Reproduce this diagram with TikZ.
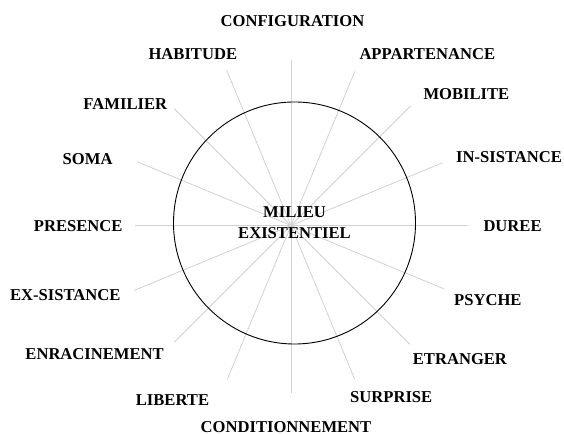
\documentclass[tikz,border=0pt]{standalone}
\usepackage{fontspec}
\setmainfont{Liberation Serif}
\usepackage{tikz}
\usetikzlibrary{calc}
\usetikzlibrary{positioning, shapes}
\usepackage{xcolor}

\tikzset{
  spoke/.style={draw=black!18, line width=0.8pt},
  axisname/.style={font=\fontsize{16.6}{19}\selectfont\bfseries, inner sep=0pt, text height=11pt, text depth=0pt}
}

\begin{document}
\begin{tikzpicture}[x=1pt, y=1pt]
  \useasboundingbox (0,0) rectangle (564,435);

  % Spokes
  \coordinate (centre) at (291,209.5);
  \foreach \ang/\len [count=\i] in {0/177, 22.5/164, 45/169, 67.5/167, 90/165, 112.5/168, 135/165, 157.5/167,
                                    180/156, 202.5/170, 225/165, 247.5/166, 270/168, 292.5/166, 315/168, 337.5/166} {
    \coordinate (end\i) at ($(centre)+(\ang:\len)$);
    \draw[spoke] (centre) -- (end\i);
  }

  % Milieu
  \node[draw, circle, minimum size=242pt, line width=0.9pt, inner sep=0pt, align=center,
        font=\fontsize{16.6}{21}\selectfont\bfseries] (milieu) at (294.5,212) {MILIEU\\EXISTENTIEL};

  % Right side
  \node[axisname, anchor=west] (appartenance) at (359.3,380.7) {APPARTENANCE};
  \node[axisname, anchor=west] (mobilite) at (423.3,340.7) {MOBILITE};
  \node[axisname, anchor=west] (insistance) at (456,278.3) {IN-SISTANCE};
  \node[axisname, anchor=west] (duree) at (483.3,209.3) {DUREE};
  \node[axisname, anchor=west] (psyche) at (454,135) {PSYCHE};
  \node[axisname, anchor=west] (etranger) at (412.7,75.7) {ETRANGER};
  \node[axisname, anchor=west] (surprise) at (350,38.3) {SURPRISE};

  % Top and bottom
  \node[axisname] (configuration) at (292.5,414.3) {CONFIGURATION};
  \node[axisname] (conditionnement) at (286,8.3) {CONDITIONNEMENT};

  % Left side
  \node[axisname, anchor=east] (habitude) at (237.3,380.7) {HABITUDE};
  \node[axisname, anchor=east] (familier) at (167.3,331) {FAMILIER};
  \node[axisname, anchor=east] (soma) at (112.7,275.7) {SOMA};
  \node[axisname, anchor=east] (presence) at (122.7,209.3) {PRESENCE};
  \node[axisname, anchor=east] (exsistance) at (120.7,140) {EX-SISTANCE};
  \node[axisname, anchor=east] (enracinement) at (164,80.7) {ENRACINEMENT};
  \node[axisname, anchor=east] (liberte) at (209.3,35) {LIBERTE};
\end{tikzpicture}
\end{document}
